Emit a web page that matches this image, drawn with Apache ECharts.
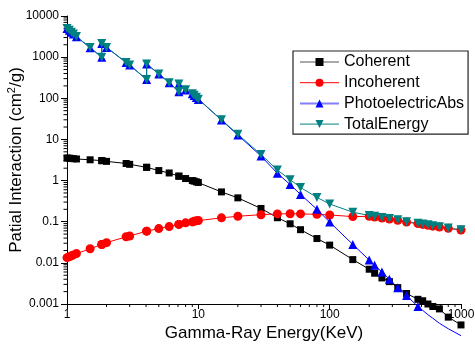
<!DOCTYPE html>
<html>
<head>
<meta charset="utf-8">
<script src="https://cdn.jsdelivr.net/npm/echarts@6/dist/echarts.min.js"></script>
<style>
  html, body { margin: 0; padding: 0; background: #fff; }
  #chart { width: 475px; height: 347px; }
</style>
</head>
<body>
<div id="chart"></div>
<script>
// photon energies (keV); repeated values are absorption edges
const energy = [1, 1.04, 1.08, 1.12, 1.18, 1.5, 1.84, 1.84, 2, 2.82, 3, 4.04, 4.04, 5, 6,
  7.11, 7.11, 8, 9, 9.3, 9.66, 10, 15, 20, 30, 40, 50, 60, 80, 100, 150,
  200, 220, 250, 285, 330, 385, 470, 511, 560, 610, 685, 800, 1000];

const coherent = [3.55, 3.5, 3.45, 3.4, 3.35, 3.2, 3.05, 3.05, 2.93, 2.6, 2.48, 2.1, 2.1, 1.75, 1.53,
  1.28, 1.28, 1.12, 1.0, 0.97, 0.93, 0.9, 0.53, 0.38, 0.21, 0.125, 0.089, 0.064, 0.039, 0.027, 0.012,
  0.007, 0.0056, 0.0043, 0.0035, 0.0025, 0.0018, 0.0013, 0.0012, 0.001, 0.00087, 0.00076, 0.00048, 0.00031];

const incoherent = [0.0134, 0.014, 0.0148, 0.0156, 0.0168, 0.022, 0.028, 0.028, 0.031, 0.043, 0.045, 0.059, 0.059, 0.068, 0.076,
  0.086, 0.086, 0.094, 0.099, 0.102, 0.105, 0.107, 0.124, 0.136, 0.148, 0.155, 0.156, 0.155, 0.151, 0.146, 0.133,
  0.135, 0.13, 0.123, 0.116, 0.108, 0.098, 0.09, 0.086, 0.082, 0.078, 0.074, 0.069, 0.063];

const photo = [4950, 4500, 4050, 3650, 3150, 1700, 990, 2150, 1720, 740, 640, 285, 680, 390, 238,
  145, 222, 160, 128, 117, 105, 94, 29.5, 12.8, 3.95, 1.5, 0.8, 0.46, 0.2, 0.098, 0.028,
  0.0117, 0.0087, 0.006, 0.004, 0.0025, 0.0016, 0.00087, 0.0007, 0.00055, 0.00045, 0.00034, 0.00025, 0.00017];

const total = [4955, 4505, 4055, 3655, 3155, 1705, 995, 2155, 1725, 745, 645, 287, 682, 392, 240,
  146, 223, 161, 129, 118, 106, 95, 30, 13.3, 4.3, 1.8, 1.05, 0.68, 0.39, 0.27, 0.17,
  0.142, 0.135, 0.127, 0.12, 0.111, 0.1, 0.092, 0.088, 0.084, 0.08, 0.075, 0.07, 0.064];

// photoelectric markers are only drawn down to this energy
const photoMarkerLast = 470;

const names = ['Coherent', 'Incoherent', 'PhotoelectricAbs', 'TotalEnergy'];
const colors = ['#000000', '#ff0000', '#0000ff', '#008080'];

// minor tick positions for the log axes (2..9 per decade)
const xMinor = [], yMinor = [];
for (let k = 0; k < 3; k++) for (let m = 2; m < 10; m++) xMinor.push(m * Math.pow(10, k));
for (let k = -3; k < 4; k++) for (let m = 2; m < 10; m++) yMinor.push(+(m * Math.pow(10, k)).toPrecision(3));

const pairs = (ys) => energy.map((x, i) => [x, ys[i]]);
const fmt = (v) => String(+(+v).toPrecision(6));
const font = 'Liberation Sans, Arial, sans-serif';

const chart = echarts.init(document.getElementById('chart'), null, { renderer: 'canvas' });

const tickSeries = (vals, isX) => ({
  type: 'custom',
  silent: true,
  clip: false,
  z: 1,
  data: vals.map(v => isX ? [v, 0.001] : [1, v]),
  renderItem: function (params, api) {
    const p = api.coord([api.value(0), api.value(1)]);
    const shape = isX
      ? { x1: p[0], y1: p[1], x2: p[0], y2: p[1] + 3 }
      : { x1: p[0] - 3.5, y1: p[1], x2: p[0], y2: p[1] };
    return { type: 'line', shape, style: { stroke: '#000', lineWidth: 1 } };
  },
});

const option = {
  animation: false,
  grid: { left: 67, right: 14, top: 16, bottom: 43, containLabel: false, outerBoundsMode: 'none' },
  xAxis: {
    type: 'log',
    logBase: 10,
    min: 1,
    max: 1000,
    name: 'Gamma-Ray Energy(KeV)',
    nameLocation: 'middle',
    nameGap: 21,
    nameMoveOverlap: false,
    nameTextStyle: { fontFamily: font, fontSize: 17, color: '#000' },
    axisLine: { lineStyle: { color: '#000', width: 1 } },
    axisTick: { length: 5, lineStyle: { color: '#000' } },
    splitLine: { show: false },
    axisLabel: { formatter: fmt, fontFamily: font, fontSize: 12, color: '#000', margin: 5 },
  },
  yAxis: {
    type: 'log',
    logBase: 10,
    min: 0.001,
    max: 10000,
    name: 'Patial Interaction (cm{sup|2}/g)',
    nameLocation: 'middle',
    nameGap: 41,
    nameMoveOverlap: false,
    nameTextStyle: {
      fontFamily: font, fontSize: 17, color: '#000',
      rich: { sup: { fontFamily: font, fontSize: 11, color: '#000', padding: [0, 0, 9, 0] } },
    },
    axisLine: { lineStyle: { color: '#000', width: 1 } },
    axisTick: { length: 6, lineStyle: { color: '#000' } },
    splitLine: { show: false },
    axisLabel: { formatter: fmt, fontFamily: font, fontSize: 12, color: '#000', margin: 8 },
  },
  legend: {
    orient: 'vertical',
    left: 293,
    top: 51,
    padding: [3, 4, 2, 6],
    itemWidth: 39,
    itemHeight: 10,
    itemGap: 4.7,
    borderColor: '#222',
    borderWidth: 1.2,
    textStyle: { fontFamily: font, fontSize: 16, color: '#000', lineHeight: 16 },
    data: [
      { name: names[0], lineStyle: { color: '#555', width: 1.2 } },
      { name: names[1], lineStyle: { color: '#ff0000', width: 1 } },
      { name: names[2], lineStyle: { color: '#8080ff', width: 2 } },
      { name: names[3], lineStyle: { color: '#008080', width: 1 } },
    ],
  },
  series: [
    {
      name: names[0], type: 'line', data: pairs(coherent), clip: false,
      symbol: 'rect', symbolSize: 7,
      itemStyle: { color: colors[0] }, lineStyle: { color: colors[0], width: 1 },
    },
    {
      name: names[1], type: 'line', data: pairs(incoherent), clip: false,
      symbol: 'circle', symbolSize: 9,
      itemStyle: { color: colors[1] }, lineStyle: { color: colors[1], width: 1 },
    },
    {
      name: names[2], type: 'line', clip: false,
      data: pairs(photo).map(p => p[0] > photoMarkerLast ? { value: p, symbol: 'none' } : p),
      symbol: 'triangle', symbolSize: 9,
      itemStyle: { color: colors[2] }, lineStyle: { color: colors[2], width: 1 },
    },
    {
      name: names[3], type: 'line', data: pairs(total), clip: false,
      symbol: 'triangle', symbolRotate: 180, symbolSize: 9,
      itemStyle: { color: colors[3] }, lineStyle: { color: colors[3], width: 1 },
    },
    tickSeries(xMinor, true),
    tickSeries(yMinor, false),
  ],
};

chart.setOption(option);
</script>
</body>
</html>
